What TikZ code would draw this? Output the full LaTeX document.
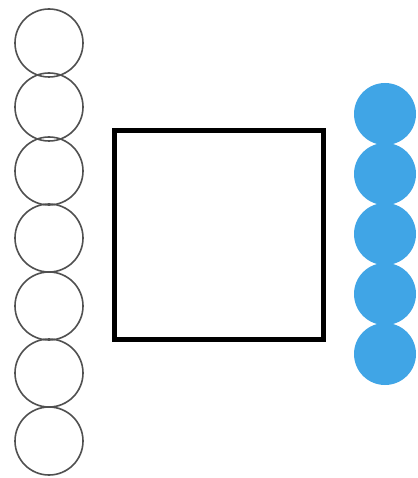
\documentclass[tikz,border=0pt]{standalone}
\definecolor{dotblue}{RGB}{64,165,230}
\definecolor{ringgray}{RGB}{80,80,80}
\tikzset{
  ring/.style={circle, draw=ringgray, line width=1.6pt, minimum size=68pt, inner sep=0pt, fill=none},
  dot/.style={circle, fill=dotblue, draw=none, minimum size=62pt, inner sep=0pt},
  frame/.style={draw=black, line width=5pt, fill=none}
}
\begin{document}
\begin{tikzpicture}[x=1pt,y=-1pt]
\useasboundingbox[fill=white] (0,0) rectangle (417,478);
% left column of rings
\node[ring] (l1) at (49,43) {};
\node[ring] (l2) at (49,107) {};
\node[ring] (l3) at (49,171) {};
\node[ring] (l4) at (49,238) {};
\node[ring] (l5) at (49,306) {};
\node[ring] (l6) at (49,373) {};
\node[ring] (l7) at (49,441) {};
% square
\node[frame, minimum width=209pt, minimum height=208.5pt, inner sep=0pt] (sq) at (219,234.75) {};
% right column of dots
\node[dot] (r1) at (385,114) {};
\node[dot] (r2) at (385,174) {};
\node[dot] (r3) at (385,234) {};
\node[dot] (r4) at (385,294) {};
\node[dot] (r5) at (385,354) {};
\end{tikzpicture}
\end{document}
